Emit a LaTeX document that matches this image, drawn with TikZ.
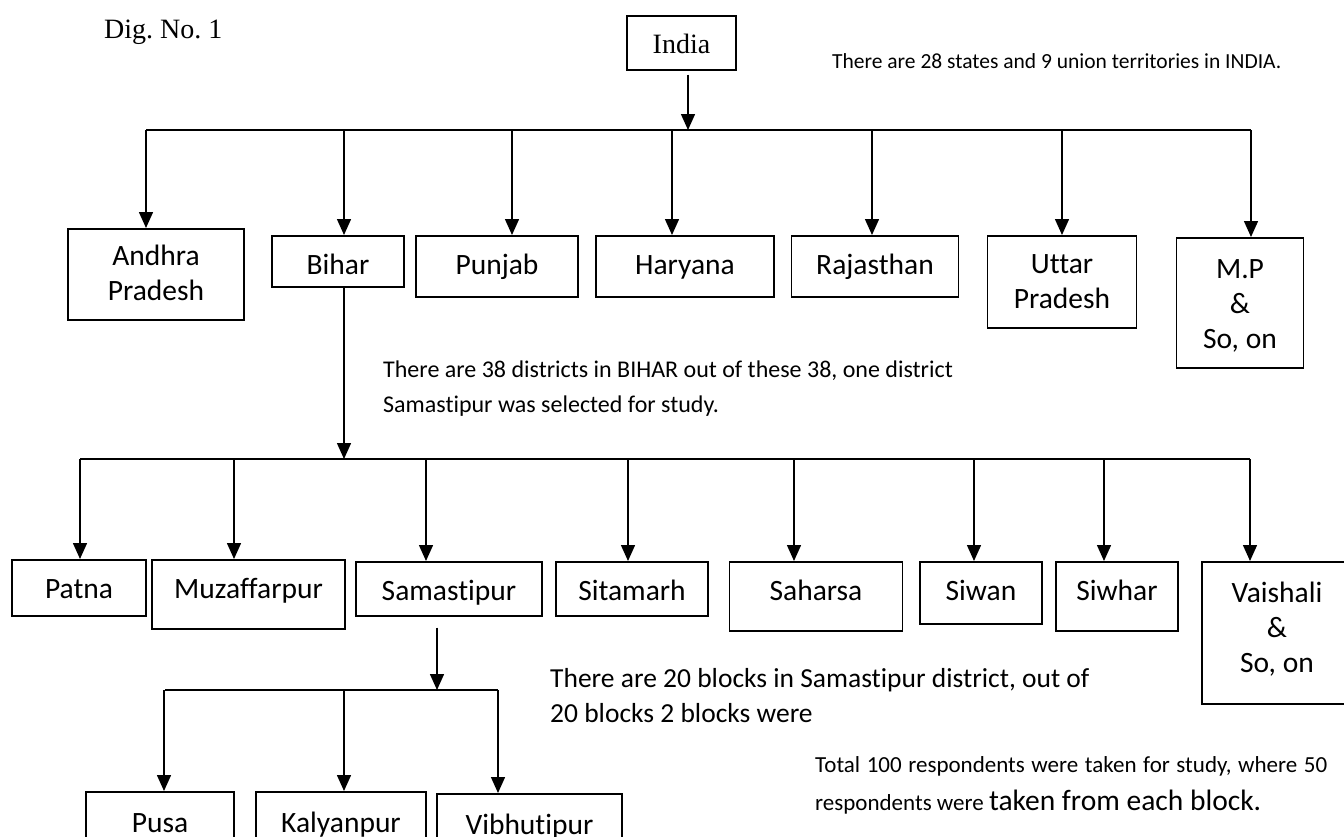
\documentclass[tikz,border=0pt]{standalone}
\usepackage{fontspec}
\setmainfont{Carlito}[Ligatures=NoCommon]
\newfontfamily\timesfont{Liberation Serif}
\usetikzlibrary{arrows.meta, calc}
\frenchspacing
\newcommand{\statefont}{\fontsize{29.5}{35}\selectfont}
\tikzstyle{box}=[draw=black, line width=1.5pt, anchor=north, inner xsep=0pt, inner ysep=0pt, align=center, font=\statefont]
\tikzstyle{arr}=[line width=1.5pt, -{Triangle[length=16pt, width=14pt]}]
\tikzstyle{note}=[anchor=base west, inner sep=0pt, align=left]

\begin{document}
\begin{tikzpicture}[x=1pt, y=-1pt]
	\useasboundingbox (0,0) rectangle (1344,836);
	\clip (0,0) rectangle (1344,836);

	% Country
	\node[note, font=\timesfont\fontsize{28}{34}\selectfont] (dig) at (104,38) {Dig. No. 1};
	\node[box, font=\timesfont\fontsize{28}{34}\selectfont, minimum width=109pt, text height=38pt, text depth=16pt] (india) at (681.5,15) {India};
	\node[note, font=\fontsize{21.5}{26}\selectfont] (nindia) at (832,68) {There are 28 states and 9 union territories in INDIA.};

	% States (multi-line boxes: text height up to the last line)
	\node[box, minimum width=176pt, text height=72pt, text depth=19pt] (andhra) at (156,228) {Andhra\\Pradesh};
	\node[box, minimum width=132pt, text height=39pt, text depth=12pt] (bihar) at (338,235) {Bihar};
	\node[box, minimum width=162pt, text height=39pt, text depth=22pt] (punjab) at (497,235) {Punjab};
	\node[box, minimum width=178pt, text height=39pt, text depth=22pt] (haryana) at (685,235) {Haryana};
	\node[box, minimum width=167pt, text height=39pt, text depth=22pt] (rajasthan) at (875,235) {Rajasthan};
	\node[box, minimum width=149pt, text height=73pt, text depth=19pt] (uttar) at (1062,235) {Uttar\\Pradesh};
	\node[box, minimum width=127pt, text height=111pt, text depth=19pt] (mp) at (1240,237) {M.P\\\&\\So, on};

	\coordinate (bar1L) at (146,130);
	\coordinate (bar1R) at (1251,130);
	\draw[line width=1.5pt] (bar1L) -- (bar1R);
	\draw[arr] ($(india.south)+(6.5,4)$) -- ($(india.south |- bar1L)+(6.5,0)$);
	\foreach \n/\dx in {andhra/-10, bihar/6, punjab/15, haryana/-13, rajasthan/-3, uttar/0, mp/11}{
		\draw[arr] ($(\n.north |- bar1L)+(\dx,0)$) -- ($(\n.north)+(\dx,0)$);
	}
	\node[note, font=\fontsize{24}{35}\selectfont] (nbihar) at (383,412) {There are 38 districts in BIHAR out of these 38, one district\\Samastipur was selected for study.};

	% Districts
	\node[box, minimum width=134pt, text height=39pt, text depth=17pt] (patna) at (79,559) {Patna};
	\node[box, minimum width=193pt, text height=39pt, text depth=30pt] (muzaffarpur) at (248.5,559) {Muzaffarpur};
	\node[box, minimum width=186pt, text height=39pt, text depth=15pt] (samastipur) at (449,561) {Samastipur};
	\node[box, minimum width=152pt, text height=39pt, text depth=15pt] (sitamarh) at (632,561) {Sitamarh};
	\node[box, minimum width=173pt, text height=39pt, text depth=30pt] (saharsa) at (816,561) {Saharsa};
	\node[box, minimum width=122pt, text height=39pt, text depth=23pt] (siwan) at (981,561) {Siwan};
	\node[box, minimum width=122pt, text height=39pt, text depth=30pt] (siwhar) at (1117,561) {Siwhar};
	\node[box, minimum width=150pt, text height=111pt, text depth=31pt] (vaishali) at (1277,561) {Vaishali\\\&\\So, on};

	\coordinate (bar2L) at (80,459);
	\coordinate (bar2R) at (1250,459);
	\draw[line width=1.5pt] (bar2L) -- (bar2R);
	\draw[arr] ($(bihar.south)+(6,0)$) -- ($(bihar.south |- bar2L)+(6,0)$);
	\foreach \n/\dx in {patna/1, muzaffarpur/-14.5, samastipur/-23, sitamarh/-4, saharsa/-22, siwan/-7, siwhar/-13, vaishali/-27}{
		\draw[arr] ($(\n.north |- bar2L)+(\dx,0)$) -- ($(\n.north)+(\dx,0)$);
	}
	\node[note, font=\fontsize{27.5}{35}\selectfont] (nsamastipur) at (550,722) {There are 20 blocks in Samastipur district, out of\\20 blocks 2 blocks were};

	% Blocks
	\node[box, minimum width=148pt, text height=41pt, text depth=40pt] (pusa) at (160,791) {Pusa};
	\node[box, minimum width=170pt, text height=41pt, text depth=40pt] (kalyanpur) at (341,791) {Kalyanpur};
	\node[box, minimum width=185pt, text height=41pt, text depth=40pt] (vibhutipur) at (529.5,793) {Vibhutipur};

	\coordinate (bar3L) at (165,690);
	\coordinate (bar3R) at (498,690);
	\draw[line width=1.5pt] (bar3L) -- (bar3R);
	\draw[arr] ($(samastipur.south)+(-12,11)$) -- ($(samastipur.south |- bar3L)+(-12,0)$);
	\foreach \n/\dx in {pusa/4, kalyanpur/3, vibhutipur/-31.5}{
		\draw[arr] ($(\n.north |- bar3L)+(\dx,0)$) -- ($(\n.north)+(\dx,0)$);
	}
	\node[note, text width=512pt, align=justify, font=\fontsize{23}{38}\selectfont] (ntotal) at (815,772) {Total 100 respondents were taken for study, where 50\linebreak respondents were {\fontsize{29.5}{38}\selectfont taken from each block.}};
\end{tikzpicture}
\end{document}
